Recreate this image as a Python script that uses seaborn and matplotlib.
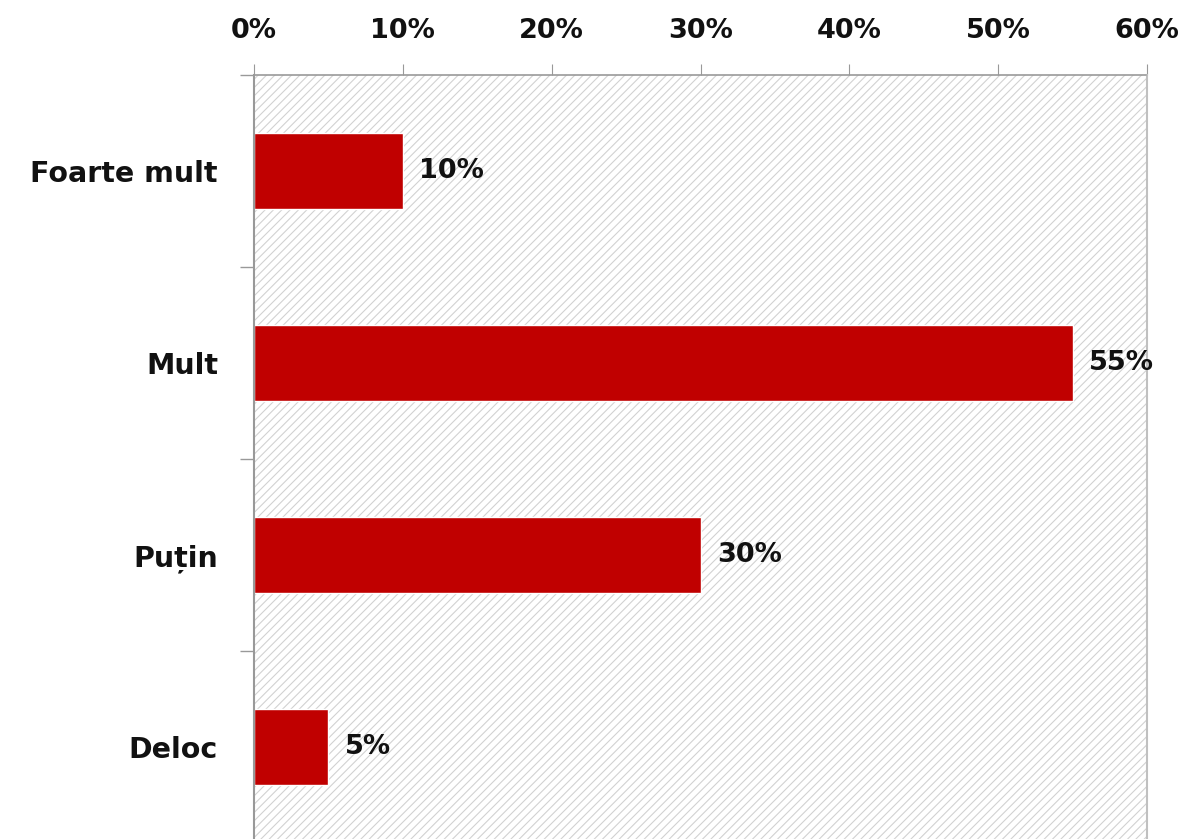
import matplotlib
matplotlib.use("Agg")
import matplotlib.pyplot as plt
import seaborn as sns
import pandas as pd
from matplotlib.patches import Rectangle
from matplotlib.ticker import FixedLocator, PercentFormatter

categories = ["Foarte mult", "Mult", "Puțin", "Deloc"]
values = [10, 55, 30, 5]
value_labels = ["10%", "55%", "30%", "5%"]
x_ticks = [0, 10, 20, 30, 40, 50, 60]

sns.set_theme(style="white")
plt.rcParams['font.family'] = ['DejaVu Sans']
plt.rcParams['hatch.linewidth'] = 0.8
plt.rcParams['hatch.color'] = '#d2d2d2'

df = pd.DataFrame({"cat": categories, "val": values})

fig = plt.figure(figsize=(11.84, 8.39), dpi=100)
ax = fig.add_axes([254/1184, 1-843/839, (1147-254)/1184, (843-75)/839])

bg = Rectangle((0, 0), 1, 1, transform=ax.transAxes, facecolor='white',
               edgecolor='#d2d2d2', hatch='////', linewidth=0, zorder=0)
ax.add_patch(bg)

sns.barplot(data=df, y="cat", x="val", orient="h", color="#C00000",
            width=0.4, saturation=1, ax=ax, zorder=2)

ax.set_xlim(0, 60)
ax.set_ylim(3.5, -0.5)
ax.set_xlabel("")
ax.set_ylabel("")

for i, (v, lab) in enumerate(zip(values, value_labels)):
    ax.annotate(lab, (v, i), xytext=(12, 0), textcoords="offset points",
                va="center", ha="left", fontsize=19.5, fontweight="bold", color="#111111")

ax.xaxis.tick_top()
ax.set_xticks(x_ticks)
ax.xaxis.set_major_formatter(PercentFormatter(100, decimals=0))
ax.tick_params(axis='x', which='major', top=True, bottom=False, length=8, width=0.8,
               color='#999999', labelsize=19.5, pad=14, labelcolor='#111111')
for lbl in ax.get_xticklabels():
    lbl.set_fontweight('bold')

ax.yaxis.set_minor_locator(FixedLocator([-0.5, 0.5, 1.5, 2.5, 3.5]))
ax.tick_params(axis='y', which='major', left=False, labelsize=20.5, pad=20, labelcolor='#111111')
ax.tick_params(axis='y', which='minor', left=True, length=10, width=1, color='#999999')
for lbl in ax.get_yticklabels():
    lbl.set_fontweight('bold')

ax.spines['left'].set_color('#999999')
ax.spines['left'].set_linewidth(1.5)
ax.spines['right'].set_color('#c0c0c0')
ax.spines['right'].set_linewidth(1.5)
ax.spines['top'].set_color('#999999')
ax.spines['top'].set_linestyle((0, (1, 1)))
ax.spines['top'].set_linewidth(1.2)
ax.spines['bottom'].set_visible(False)
ax.grid(False)

fig.savefig("out.png", dpi=100)
